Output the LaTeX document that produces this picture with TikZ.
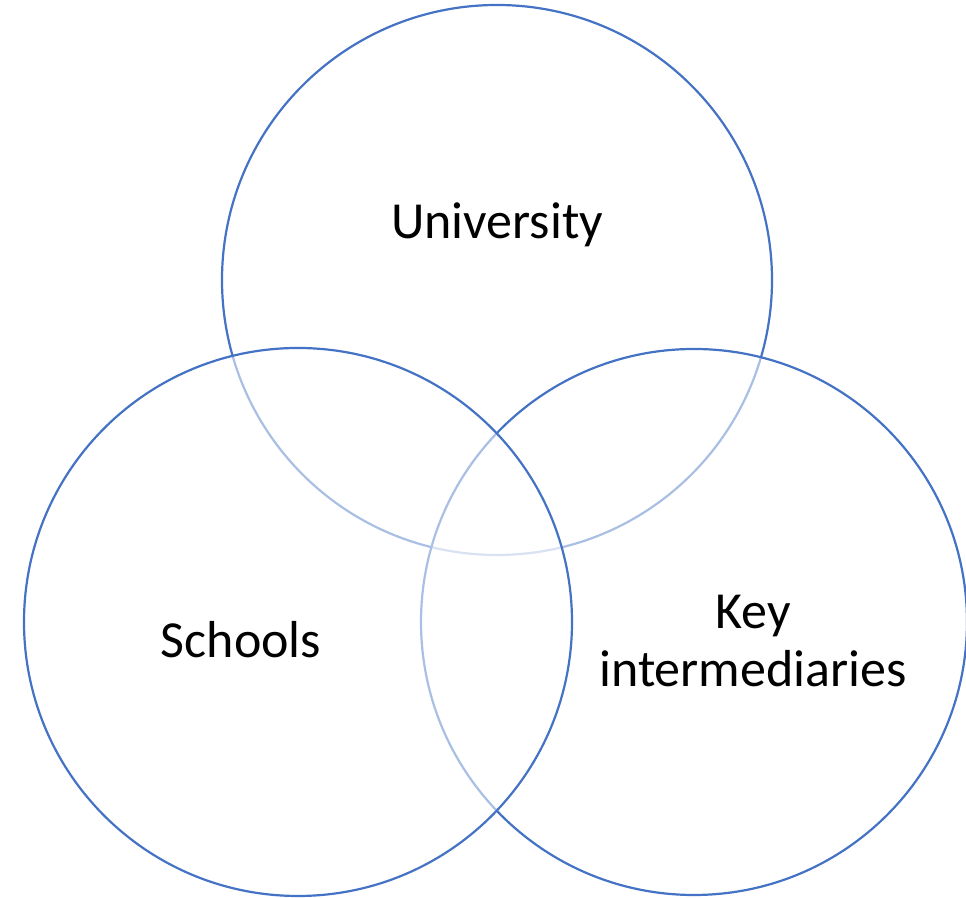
\documentclass[tikz,border=0pt]{standalone}
\usepackage{fontspec}
\setmainfont{Carlito}
\usepackage{tikz}

\definecolor{vennblue}{RGB}{68,114,196}

\begin{document}
\begin{tikzpicture}[x=0.5pt,y=0.5pt,thick]
\tikzstyle{set}=[circle,draw=vennblue,line width=1.1pt,fill=white,fill opacity=0.55,draw opacity=1,minimum size=275pt,inner sep=0pt]
\tikzstyle{lbl}=[align=center,font=\fontsize{26}{29}\selectfont,text=black]
\useasboundingbox (0,0) rectangle (966,898);
% drawn top, right, left so the overlaps fade like the original
\node[set] (uni) at (497,618) {};
\node[set,minimum size=273pt] (inter) at (694,276) {};
\node[set,minimum size=274pt] (school) at (298,276) {};
\node[lbl] (unitext) at (497,673) {University};
\node[lbl] (schooltext) at (241,258) {Schools};
\node[lbl] (intertext) at (753,257) {Key\\intermediaries};
\end{tikzpicture}
\end{document}
